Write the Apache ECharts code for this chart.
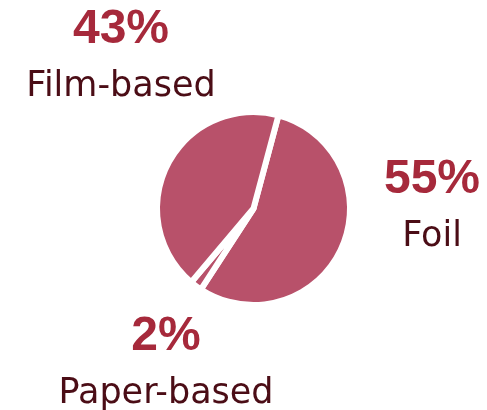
<!DOCTYPE html>
<html>
<head>
<meta charset="utf-8">
<script src="https://cdn.jsdelivr.net/npm/echarts@6/dist/echarts.min.js"></script>
<style>html,body{margin:0;padding:0;background:#fff;}#c{width:487px;height:410px;}</style>
</head>
<body>
<div id="c"></div>
<script>
var categories = ['Foil', 'Paper-based', 'Film-based'];
var values = [55, 2, 43];
var percentLabels = ['55%', '2%', '43%'];

var labelSpots = [
  {x: 432, y: 154},
  {x: 166, y: 311},
  {x: 121, y: 4}
];

var chart = echarts.init(document.getElementById('c'));
chart.setOption({
  animation: false,
  series: [{
    type: 'pie',
    center: [253.5, 208.5],
    radius: [0, 96.5],
    startAngle: 75,
    clockwise: true,
    itemStyle: {color: '#b8516a', borderColor: '#ffffff', borderWidth: 6},
    emphasis: {disabled: true},
    labelLine: {show: false},
    label: {
      show: true,
      position: 'outside',
      overflow: 'none',
      width: 400,
      edgeDistance: 0,
      bleedMargin: 0,
      formatter: function (p) { return '{pct|' + percentLabels[p.dataIndex] + '}\n{name|' + p.name + '}'; },
      rich: {
        pct: {fontFamily: 'Liberation Sans', fontWeight: 'bold', fontSize: 48, color: '#a6293b', lineHeight: 52, align: 'center'},
        name: {fontFamily: 'DejaVu Sans', fontSize: 35, color: '#4b0d16', lineHeight: 62, align: 'center'}
      }
    },
    labelLayout: function (params) {
      var s = labelSpots[params.dataIndex];
      return {x: s.x, y: s.y, align: 'center', verticalAlign: 'top'};
    },
    data: categories.map(function (c, i) { return {name: c, value: values[i]}; })
  }]
});
</script>
</body>
</html>
